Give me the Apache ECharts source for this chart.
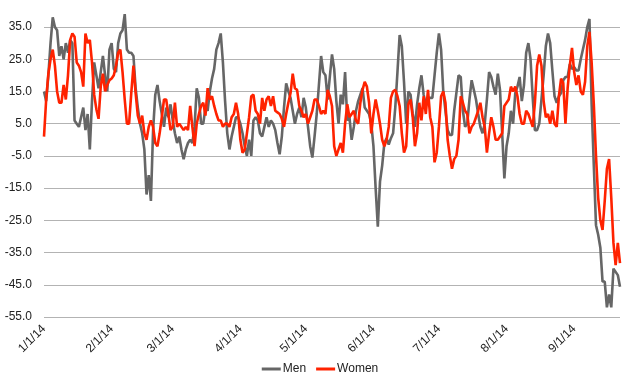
<!DOCTYPE html>
<html>
<head>
<meta charset="utf-8">
<script src="https://cdn.jsdelivr.net/npm/echarts@6/dist/echarts.min.js"></script>
<style>html,body{margin:0;padding:0;background:#fff}#c{width:640px;height:382px}</style>
</head>
<body>
<div id="c"></div>
<script>
// Daily dates 1/1/14 .. 9/22/14
var startDate = [2014, 0, 1];
var dayCount = 265;
var categories = [];
for (var i = 0; i < dayCount; i++) {
  var dt = new Date(startDate[0], startDate[1], startDate[2] + i);
  categories.push((dt.getMonth() + 1) + '/' + dt.getDate() + '/' + String(dt.getFullYear()).slice(2));
}
var yTicks = [-55, -45, -35, -25, -15, -5, 5, 15, 25, 35];
var seriesNames = ['Men', 'Women'];

var men = [
  15,12,20,30,38,35,34,26,29,25,
  30,27,31,30,6,5,4,7,10,3,
  8,-3,12,24,20,16,21,26,20,15,
  28,30,22,21,30,33,34,39,28,27,
  27,26,16,10,5,2,-3,-17,-11,-19,
  3,14,17,12,8,4,10,7,11,6,
  2,-1,1,-3,-6,-3,-1,0,-1,4,
  16,13,5,5,10,9,15,19,22,28,
  30,33,24,12,2,-3,1,4,7,7,
  5,2,-2,-5,0,-5,6,7,6,2,
  1,4,7,4,6,5,3,-1,-4.5,1,
  10,17.5,15,13,9,5,8,10,7,13,
  10,4,-2,-5.5,1,8,17,26,21,20,
  12.5,19.5,26.5,22,12,5,14,11,21,6,
  7,0,4,9,12,14,16,10,9,8,
  5,-2,-15,-27,-13,-8,-1,0.5,-1.5,0.5,
  2,10,21,32.5,29,18,5,15,14,8,
  4,11,16,20,14,11,13,13,13,20,
  27,33,28,15,9,3,1.5,1.5,9,14.5,
  20,19.5,9,4,5,12.5,18.5,15.5,12.5,8,
  4,2,5,12.5,21,19.5,16.5,14,20.5,15.5,
  2,-12,-2,2,9,5,14.5,16.5,19.5,12,
  17,27,30,25,13,3,3,5,12.5,20,
  29,33,30,21.5,13.5,11.5,13.5,14.5,18.5,19.5,
  19.5,23.5,22,22.5,21.5,21.5,25,28,31,35,
  37.5,11,-8,-26.5,-29.5,-33.5,-44,-44,-52,-48,
  -52,-40,-41,-42,-45.6
];

var women = [
  1,12.5,20.5,25,28,23,15,11.5,11.5,17,
  12.5,20,31,33,32,24,23,21,16.5,33,
  30,31,24,14,9.5,6.5,16.5,20.5,15,17,
  18.5,19,20,23,27,28,21,12.5,5,5,
  14.5,23,14.5,7.5,5,7.5,2,0,4,6,
  4,-1,-2,2,7,12.5,12.5,8,3,4,
  11.5,4,5,4,3,4,3,10.5,4,-2,
  5,8,10.5,11.5,7.5,16,12.5,13.5,10.5,8,
  6,6,4,5,5,4,7,8,11.5,8,
  0,-4,-3,2,7,13.5,14,9,8,5,
  13,9,12.5,13.5,10.5,13.5,9,8.5,8,6.5,
  4,8,11.5,14.5,20.5,16,15.5,10.5,9,7,
  8,5,7,9,12.5,12.5,10.5,8,9,8,
  15.5,13.5,10.5,-2,-5,-3,-1,-4,5,11,
  7,8,9,6,5,11.5,15.5,18,16.5,11.5,
  2,8,12.5,9,5,0,-2,0,4,13,
  15,15.5,13.5,10.5,2,-4,-2,11,12.5,7,
  -2,2,11.5,6,13.5,8,15.5,7,4,-7,
  -4,4,13.5,15,11.5,0,-5,-9,-6,-5,
  0,13.5,11.5,9,8,2,4,5,7,9,
  11.5,7,4,-4,2,7,4,0,0,1,
  2,10.5,11.5,12.5,16.5,15,16.5,13.5,8,5,
  5,9,8,6,4,11.5,23,26.5,23,12,
  7,8,5,9,5,4,13.5,19,17.5,5,
  16,23,28.5,21,17,20,15,14,18,29,
  33.5,24,11,-5,-18,-25,-28,-19,-9,-6,
  -18,-32,-38.9,-32,-38.3
];

var chart = echarts.init(document.getElementById('c'), null, {renderer: 'canvas'});
var font = 'Liberation Sans, Arial, sans-serif';
chart.setOption({
  animation: false,
  backgroundColor: '#ffffff',
  grid: {left: 44, right: 20, top: 27, bottom: 65},
  legend: {
    data: seriesNames,
    top: 358,
    left: 'center',
    itemWidth: 19,
    itemHeight: 3,
    itemGap: 10,
    icon: 'rect',
    textStyle: {fontFamily: font, fontSize: 12, color: '#222', padding: [0, 0, 0, -3]}
  },
  xAxis: {
    type: 'category',
    data: categories,
    boundaryGap: false,
    axisLine: {show: false},
    axisTick: {show: false},
    splitLine: {show: false},
    axisLabel: {
      rotate: 45,
      margin: 10,
      fontFamily: font,
      fontSize: 12,
      color: '#222',
      interval: function (idx, val) { return val.split('/')[1] === '1'; }
    }
  },
  yAxis: {
    type: 'value',
    min: yTicks[0],
    max: yTicks[yTicks.length - 1],
    interval: 10,
    axisLine: {show: false},
    axisTick: {show: false},
    splitLine: {lineStyle: {color: '#b3b3b3', width: 1}},
    axisLabel: {
      margin: 12,
      fontFamily: font,
      fontSize: 12,
      color: '#222',
      formatter: function (v) { return v.toFixed(1); }
    }
  },
  series: [
    {name: seriesNames[0], type: 'line', data: men, showSymbol: false, clip: false,
     lineStyle: {color: '#666666', width: 2.6}, itemStyle: {color: '#666666'}},
    {name: seriesNames[1], type: 'line', data: women, showSymbol: false, clip: false,
     lineStyle: {color: '#ff2200', width: 2.6}, itemStyle: {color: '#ff2200'}}
  ]
});
</script>
</body>
</html>
